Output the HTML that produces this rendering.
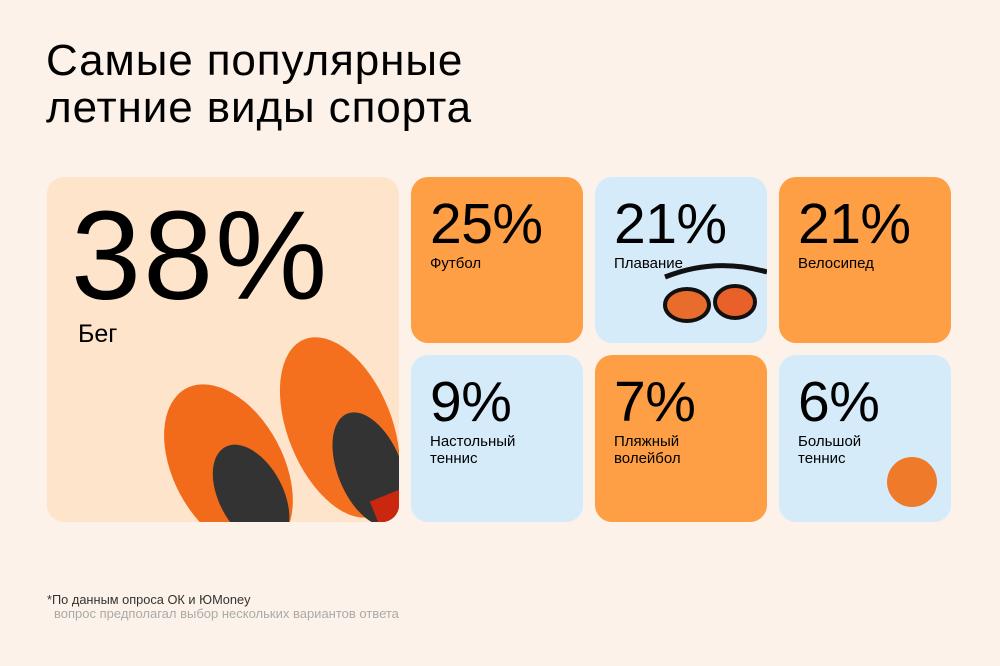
<!DOCTYPE html>
<html><head><meta charset="utf-8"><style>
body{margin:0;width:1000px;height:666px;background:#fcf2e9;font-family:"Liberation Sans","Noto Sans CJK SC",sans-serif;position:relative;overflow:hidden;color:#000}
.t{position:absolute;left:46px;top:37px;font-size:44px;line-height:47px;letter-spacing:0.9px}
.c{position:absolute;border-radius:17px;overflow:hidden}
.o{background:#fe9f46}.b{background:#d5ebfa}
.n{position:absolute;left:19px;top:14px;font-size:57px;letter-spacing:-0.5px}
.l{position:absolute;left:19px;top:78px;font-size:15px;line-height:17px}
</style></head><body>
<div class="t">Самые популярные<br>летние виды спорта</div>
<div class="c" style="left:47px;top:177px;width:352px;height:345px;background:#fde4cb">
<div style="position:absolute;left:24px;top:6px;font-size:126px;letter-spacing:2px">38%</div>
<div style="position:absolute;left:31px;top:143px;font-size:25px">Бег</div>
<svg width="352" height="345" style="position:absolute;left:0;top:0">
<g transform="rotate(-28 170 280)"><ellipse cx="175" cy="295" rx="55" ry="90" fill="#f26b1a"/><ellipse cx="182" cy="330" rx="32" ry="55" fill="#333"/></g>
<g transform="rotate(-22 290 230)"><ellipse cx="285" cy="250" rx="52" ry="95" fill="#f5701e"/><ellipse cx="297" cy="300" rx="32" ry="60" fill="#333"/><rect x="285" y="330" width="50" height="30" fill="#c9280e"/></g>
</svg>
</div>
<div class="c o" style="left:411px;top:177px;width:172px;height:166px"><div class="n">25%</div><div class="l">Футбол</div></div>
<div class="c b" style="left:595px;top:177px;width:172px;height:166px"><div class="n">21%</div><div class="l">Плавание</div>
<svg width="172" height="166" style="position:absolute;left:0;top:0"><path d="M70 100 Q120 80 172 95" stroke="#111" stroke-width="5" fill="none"/><ellipse cx="92" cy="128" rx="22" ry="16" fill="#e86c2c" stroke="#111" stroke-width="4"/><ellipse cx="140" cy="125" rx="20" ry="16" fill="#e8602a" stroke="#111" stroke-width="4"/></svg></div>
<div class="c o" style="left:779px;top:177px;width:172px;height:166px"><div class="n">21%</div><div class="l">Велосипед</div></div>
<div class="c b" style="left:411px;top:355px;width:172px;height:167px"><div class="n">9%</div><div class="l">Настольный<br>теннис</div></div>
<div class="c o" style="left:595px;top:355px;width:172px;height:167px"><div class="n">7%</div><div class="l">Пляжный<br>волейбол</div></div>
<div class="c b" style="left:779px;top:355px;width:172px;height:167px"><div class="n">6%</div><div class="l">Большой<br>теннис</div>
<svg width="172" height="167" style="position:absolute;left:0;top:0"><circle cx="133" cy="127" r="25" fill="#ee7a2a"/></svg></div>
<div style="position:absolute;left:47px;top:592px;font-size:12.8px;color:#333">*По данным опроса ОК и ЮMoney</div>
<div style="position:absolute;left:54px;top:606px;font-size:13px;color:#aaa">вопрос предполагал выбор нескольких вариантов ответа</div>
</body></html>
